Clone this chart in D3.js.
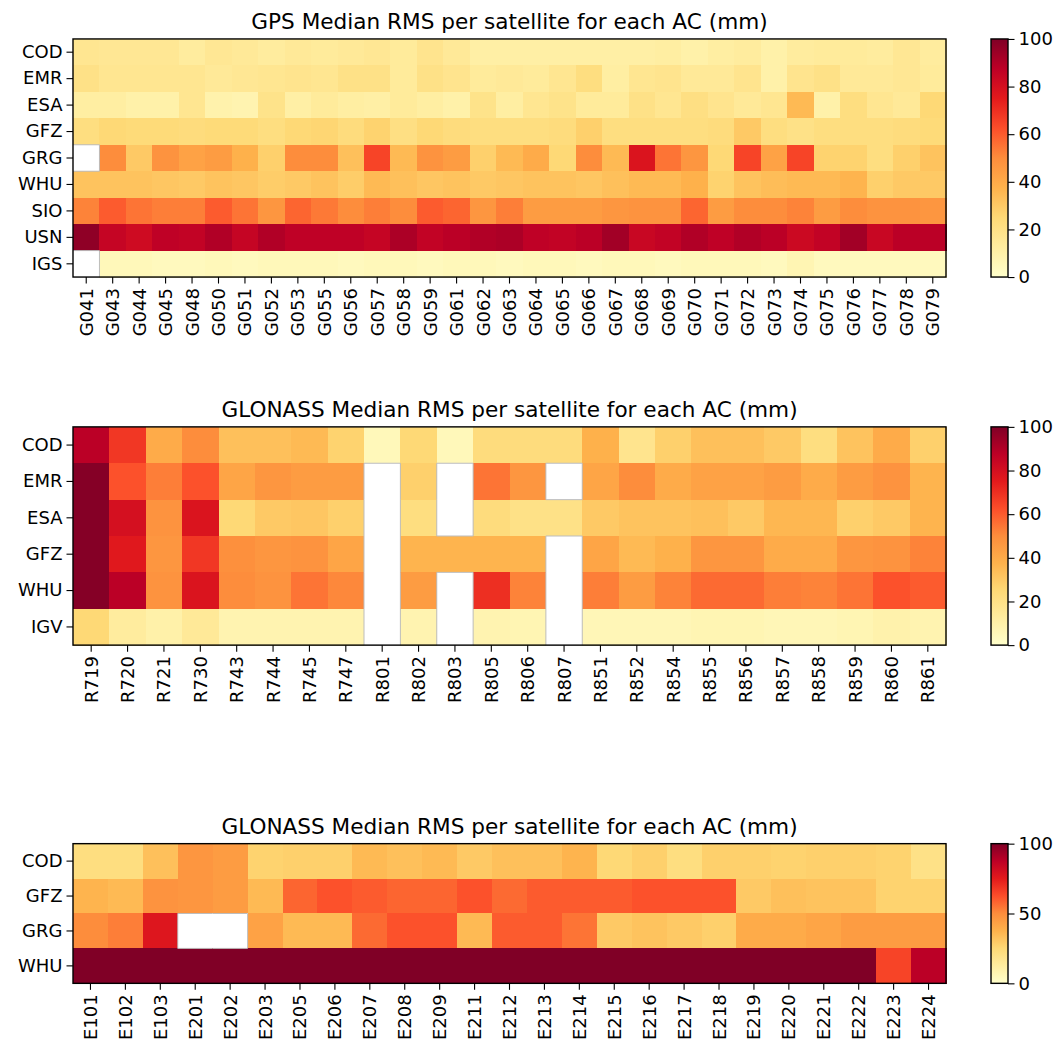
<!DOCTYPE html>
<html>
<head>
<meta charset="utf-8">
<script src="https://cdn.jsdelivr.net/npm/d3@7"></script>
<style>
  body { margin: 0; background: #fff; }
  text { font-family: "DejaVu Sans", sans-serif; fill: #000; }
</style>
</head>
<body>
<script>
var N = NaN;

// GPS
var gpsSats = ['G041','G043','G044','G045','G048','G050','G051','G052','G053','G055','G056','G057','G058','G059','G061','G062','G063','G064','G065','G066','G067','G068','G069','G070','G071','G072','G073','G074','G075','G076','G077','G078','G079'];
var gpsACs = ['COD','EMR','ESA','GFZ','GRG','WHU','SIO','USN','IGS'];
var gpsRms = [
  [17,16,16,16,13,16,15,13,15,14,15,16,14,18,15,11,11,11,11,11,11,11,12,10,12,13,10,13,14,14,13,16,13],
  [20,17,17,17,17,15,16,17,18,17,20,20,14,20,18,14,15,14,17,22,12,17,18,15,15,18,10,18,20,15,15,16,14],
  [12,12,10,10,17,9,8,19,11,14,12,11,14,12,10,19,12,17,19,14,14,20,17,21,18,15,17,35,10,22,17,15,25],
  [22,25,24,24,23,24,24,22,25,26,23,27,21,25,23,22,22,22,23,28,22,22,22,22,23,30,22,20,22,22,22,23,24],
  [N,50,30,48,43,45,38,28,50,50,33,65,35,48,45,28,35,40,25,50,35,78,55,47,25,65,43,65,27,27,22,28,32],
  [32,32,32,31,30,32,31,29,30,32,29,35,33,31,32,30,31,32,32,31,33,35,35,38,27,32,34,35,35,37,28,30,30],
  [52,60,55,53,53,60,55,47,58,54,50,53,50,60,58,47,53,45,45,45,47,48,48,58,45,50,50,52,45,50,48,48,47],
  [97,85,82,87,86,90,85,90,87,87,87,85,91,86,88,90,91,87,86,88,93,84,86,90,87,90,88,83,86,93,84,88,88],
  [N,5,5,4,4,5,4,5,5,5,4,5,5,4,5,5,4,5,5,4,5,5,4,5,5,5,4,7,4,4,4,4,4]
];

// GLONASS
var gloSats = ['R719','R720','R721','R730','R743','R744','R745','R747','R801','R802','R803','R805','R806','R807','R851','R852','R854','R855','R856','R857','R858','R859','R860','R861'];
var gloACs = ['COD','EMR','ESA','GFZ','WHU','IGV'];
var gloRms = [
  [88,68,40,50,33,33,35,27,5,25,5,23,23,23,38,18,28,33,33,30,22,32,40,28],
  [99,62,53,62,42,47,45,45,N,28,N,55,47,N,42,50,40,43,43,45,40,45,48,37],
  [99,80,48,78,25,30,31,28,N,22,N,23,20,20,30,32,32,33,30,36,36,28,30,37],
  [99,76,47,68,49,47,48,42,N,37,37,37,37,N,42,35,38,47,47,40,40,47,48,52],
  [99,88,48,78,50,48,55,51,N,45,N,70,52,N,53,45,52,57,57,53,52,55,62,60],
  [25,13,10,15,8,8,8,8,N,8,N,8,7,N,6,6,6,7,7,6,6,7,9,8]
];

// Galileo (titled GLONASS in the original)
var galSats = ['E101','E102','E103','E201','E202','E203','E205','E206','E207','E208','E209','E211','E212','E213','E214','E215','E216','E217','E218','E219','E220','E221','E222','E223','E224'];
var galACs = ['COD','GFZ','GRG','WHU'];
var galRms = [
  [22,22,33,47,45,27,28,28,35,33,35,30,33,33,37,25,28,22,28,28,27,28,28,27,20],
  [37,35,48,47,45,35,58,62,60,58,58,62,57,60,60,60,62,62,62,30,33,32,32,27,27],
  [50,53,77,N,N,43,35,35,57,62,62,35,60,60,55,30,32,30,28,40,40,42,45,45,45],
  [100,100,100,100,100,100,100,100,100,100,100,100,100,100,100,100,100,100,100,100,100,100,100,65,88]
];

var titles = ['GPS Median RMS per satellite for each AC (mm)',
              'GLONASS Median RMS per satellite for each AC (mm)',
              'GLONASS Median RMS per satellite for each AC (mm)'];
var cbTicks = [[0,20,40,60,80,100],[0,20,40,60,80,100],[0,50,100]];

var ylorrd = ['#ffffcc','#ffeda0','#fed976','#feb24c','#fd8d3c','#fc4e2a','#e31a1c','#bd0026','#800026'];
var color = d3.scaleLinear()
  .domain(d3.range(9).map(function(i){ return i * 12.5; }))
  .range(ylorrd)
  .clamp(true);

var W = 1064, H = 1048;
var svg = d3.select("body").append("svg")
  .attr("width", W)
  .attr("height", H);
svg.append("rect").attr("width", W).attr("height", H).attr("fill", "#fff");

var defs = svg.append("defs");
var grad = defs.append("linearGradient").attr("id", "cmap")
  .attr("x1", 0).attr("y1", 1).attr("x2", 0).attr("y2", 0);
ylorrd.forEach(function(c, i) {
  grad.append("stop").attr("offset", (i / 8 * 100) + "%").attr("stop-color", c);
});

var plotLeft = 73, plotWidth = 873;
var centers = [158, 536, 913.5];
var fs = 18;

function heatmap(k, sats, acs, vals) {
  var cell = plotWidth / sats.length;
  var h = cell * acs.length;
  var top = centers[k] - h / 2;

  var g = svg.append("g").attr("transform", "translate(" + plotLeft + "," + top + ")");

  var x = d3.scaleBand().domain(sats).range([0, plotWidth]);
  var y = d3.scaleBand().domain(acs).range([0, h]);

  var cells = [];
  vals.forEach(function(row, r) {
    row.forEach(function(v, c) {
      cells.push({ac: acs[r], sat: sats[c], v: v, r: r, c: c});
    });
  });

  g.selectAll("rect.cell")
    .data(cells)
    .enter().append("rect")
    .attr("class", "cell")
    .attr("x", function(d) { return x(d.sat); })
    .attr("y", function(d) { return y(d.ac); })
    .attr("width", x.bandwidth() + 0.6)
    .attr("height", y.bandwidth() + 0.6)
    .attr("shape-rendering", "crispEdges")
    .attr("fill", function(d) { return isNaN(d.v) ? "#fff" : color(d.v); });

  // grey outline where missing cells meet coloured ones
  var edges = [];
  cells.forEach(function(d) {
    if (!isNaN(d.v)) return;
    var x0 = x(d.sat), x1 = x0 + x.bandwidth(), y0 = y(d.ac), y1 = y0 + y.bandwidth();
    function filled(r, c) {
      return r >= 0 && r < acs.length && c >= 0 && c < sats.length && !isNaN(vals[r][c]);
    }
    if (filled(d.r - 1, d.c)) edges.push([x0, y0, x1, y0]);
    if (filled(d.r + 1, d.c)) edges.push([x0, y1, x1, y1]);
    if (filled(d.r, d.c - 1)) edges.push([x0, y0, x0, y1]);
    if (filled(d.r, d.c + 1)) edges.push([x1, y0, x1, y1]);
  });
  g.selectAll("line.nan")
    .data(edges)
    .enter().append("line")
    .attr("x1", function(d) { return d[0]; })
    .attr("y1", function(d) { return d[1]; })
    .attr("x2", function(d) { return d[2]; })
    .attr("y2", function(d) { return d[3]; })
    .attr("stroke", "#bdbdbd")
    .attr("stroke-width", 1);

  var xAxis = g.append("g")
    .attr("transform", "translate(0," + h + ")")
    .call(d3.axisBottom(x).tickSize(6.5).tickPadding(4));
  xAxis.selectAll("text")
    .attr("transform", "rotate(-90)")
    .attr("text-anchor", "end")
    .attr("x", -11)
    .attr("y", 0)
    .attr("dy", "0.36em");

  var yAxis = g.append("g")
    .call(d3.axisLeft(y).tickSize(6.5).tickPadding(4));

  [xAxis, yAxis].forEach(function(a) {
    a.select(".domain").remove();
    a.selectAll("line").attr("stroke", "#000").attr("stroke-width", 1.1);
    a.selectAll("text").style("font-size", fs + "px").style("font-family", '"DejaVu Sans", sans-serif');
  });

  g.append("rect")
    .attr("width", plotWidth)
    .attr("height", h)
    .attr("fill", "none")
    .attr("stroke", "#000")
    .attr("stroke-width", 1.4);

  g.append("text")
    .attr("x", plotWidth / 2)
    .attr("y", -10)
    .attr("text-anchor", "middle")
    .style("font-size", "21.6px")
    .text(titles[k]);

  // colour bar
  var cbx = 991 - plotLeft, cbw = 17;
  var cb = g.append("g").attr("transform", "translate(" + cbx + ",0)");
  cb.append("rect")
    .attr("width", cbw)
    .attr("height", h)
    .attr("fill", "url(#cmap)")
    .attr("stroke", "#000")
    .attr("stroke-width", 1.4);
  var cy = d3.scaleLinear().domain([0, 100]).range([h, 0]);
  var cAxis = cb.append("g")
    .attr("transform", "translate(" + cbw + ",0)")
    .call(d3.axisRight(cy).tickValues(cbTicks[k]).tickSize(6.5).tickPadding(4));
  cAxis.select(".domain").remove();
  cAxis.selectAll("line").attr("stroke", "#000").attr("stroke-width", 1.1);
  cAxis.selectAll("text").style("font-size", fs + "px").style("font-family", '"DejaVu Sans", sans-serif');
}

heatmap(0, gpsSats, gpsACs, gpsRms);
heatmap(1, gloSats, gloACs, gloRms);
heatmap(2, galSats, galACs, galRms);
</script>
</body>
</html>
